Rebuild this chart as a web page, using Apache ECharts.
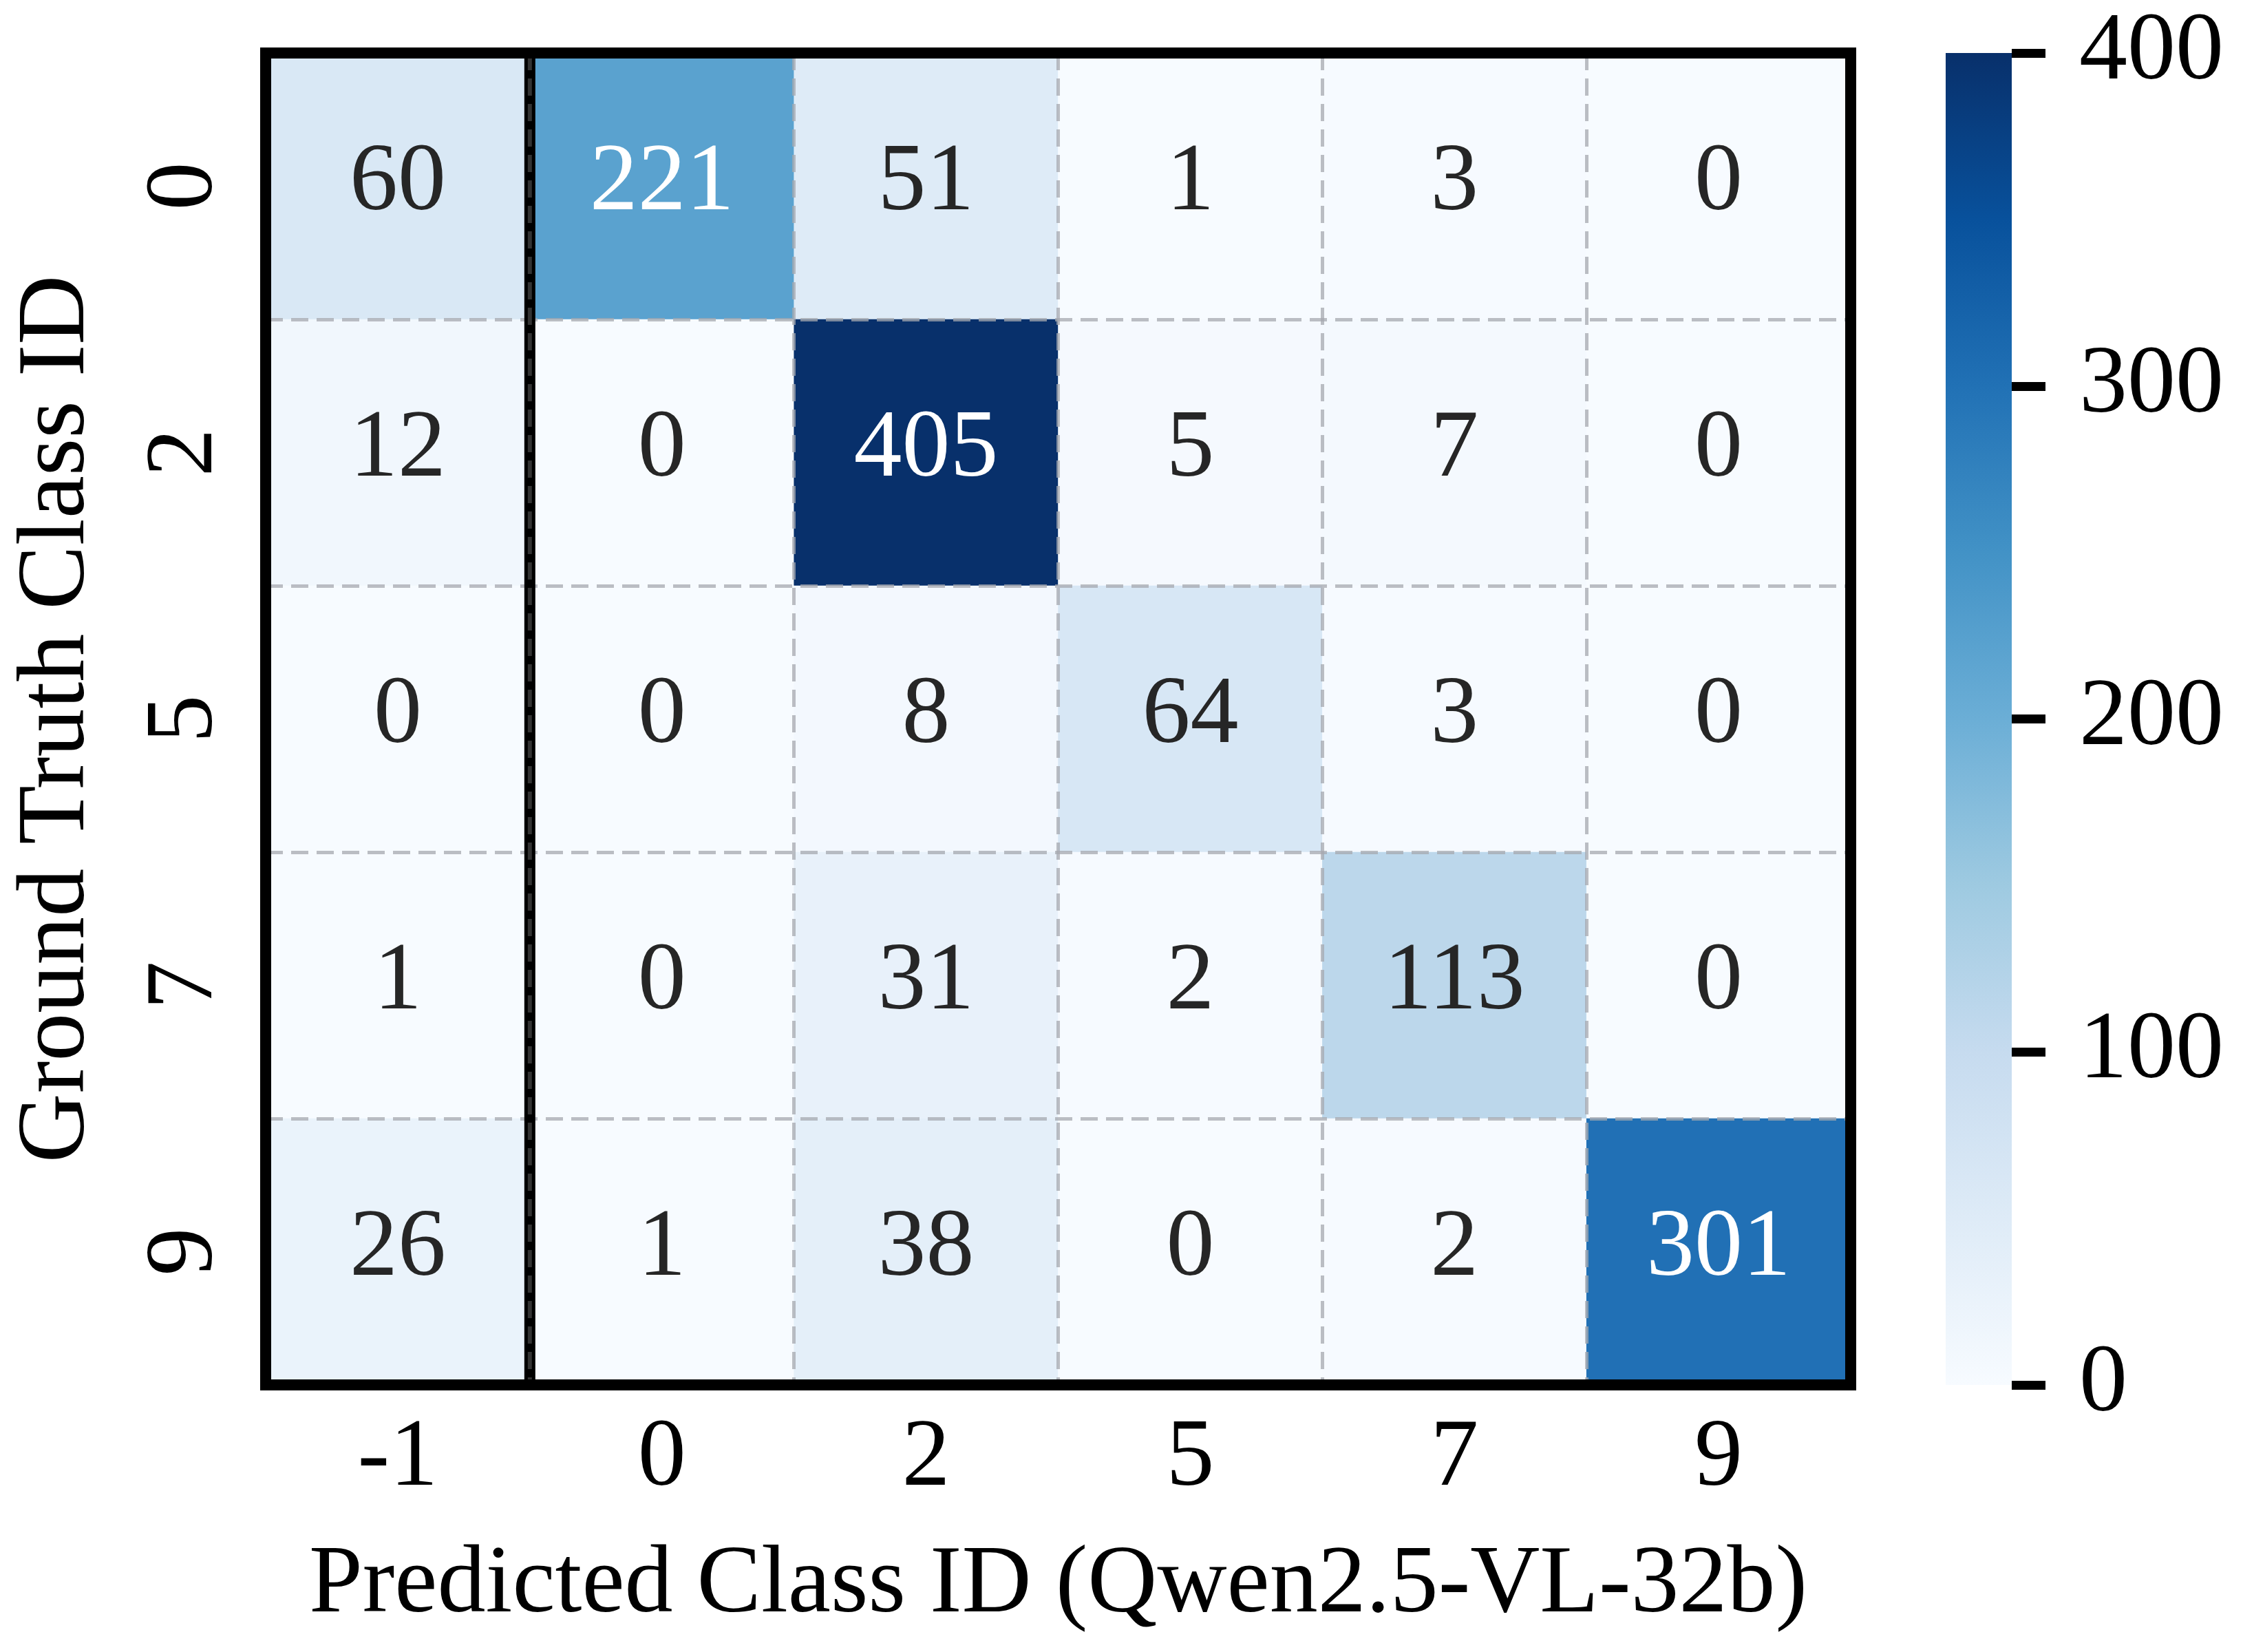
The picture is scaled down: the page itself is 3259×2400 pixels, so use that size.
<!DOCTYPE html>
<html>
<head>
<meta charset="utf-8">
<script src="https://cdn.jsdelivr.net/npm/echarts@6/dist/echarts.min.js"></script>
<style>
html,body{margin:0;padding:0;background:#fff;}
#c{width:3259px;height:2400px;}
</style>
</head>
<body>
<div id="c"></div>
<script>
// ---- data ----
const predictedClasses = ['-1', '0', '2', '5', '7', '9'];
const groundTruthClasses = ['0', '2', '5', '7', '9'];
const row0 = [60, 221, 51, 1, 3, 0];
const row2 = [12, 0, 405, 5, 7, 0];
const row5 = [0, 0, 8, 64, 3, 0];
const row7 = [1, 0, 31, 2, 113, 0];
const row9 = [26, 1, 38, 0, 2, 301];
const colorbarMin = 0;
const colorbarMax = 400;
const colorbarStep = 100;
const separatorAfterColumn = 1; // line between "-1" (no detection) and the rest

const rows = [row0, row2, row5, row7, row9];
const blues = ['#f7fbff', '#deebf7', '#c6dbef', '#9ecae1', '#6baed6', '#4292c6', '#2171b5', '#08519c', '#08306b'];
const FONT = "'Liberation Serif', 'Times New Roman', serif";
const FS = 140;

function hex2rgb(h) { return [parseInt(h.substr(1,2),16), parseInt(h.substr(3,2),16), parseInt(h.substr(5,2),16)]; }
function cmap(t) {
  t = Math.max(0, Math.min(1, t));
  const p = t * (blues.length - 1);
  const i = Math.min(Math.floor(p), blues.length - 2);
  const f = p - i;
  const a = hex2rgb(blues[i]), b = hex2rgb(blues[i + 1]);
  return a.map((v, k) => v + (b[k] - v) * f);
}
function lum(rgb) {
  const c = rgb.map(v => { v /= 255; return v <= 0.03928 ? v / 12.92 : Math.pow((v + 0.055) / 1.055, 2.4); });
  return 0.2126 * c[0] + 0.7152 * c[1] + 0.0722 * c[2];
}

const heatData = [];
rows.forEach((r, yi) => r.forEach((v, xi) => {
  const col = cmap((v - colorbarMin) / (colorbarMax - colorbarMin));
  heatData.push({ value: [xi, yi, v], label: { color: lum(col) > 0.408 ? '#262626' : '#ffffff' } });
}));

const gridStyle = { show: true, lineStyle: { color: 'rgba(165,168,175,0.75)', width: 5, type: [25, 12] } };

const chart = echarts.init(document.getElementById('c'), null, { renderer: 'canvas' });
chart.setOption({
  animation: false,
  backgroundColor: '#ffffff',
  textStyle: { fontFamily: FONT },
  grid: [
    { left: 386, top: 77, width: 2303, height: 1935, show: true, borderColor: '#000', borderWidth: 16, backgroundColor: 'transparent', z: 10 },
    { left: 2827, top: 77, width: 96, height: 1935, show: false }
  ],
  xAxis: [
    {
      type: 'category', gridIndex: 0, data: predictedClasses, position: 'bottom', z: 5,
      axisLine: { show: false }, axisTick: { show: false },
      axisLabel: { fontSize: FS, fontFamily: FONT, color: '#000', margin: 38 },
      splitLine: gridStyle,
      name: 'Predicted Class ID (Qwen2.5-VL-32b)', nameLocation: 'middle', nameGap: 222,
      nameTextStyle: { fontSize: FS, fontFamily: FONT, color: '#000' }
    },
    { type: 'value', gridIndex: 0, min: 0, max: predictedClasses.length, show: false },
    { type: 'category', gridIndex: 1, data: ['cb'], show: false }
  ],
  yAxis: [
    {
      type: 'category', gridIndex: 0, data: groundTruthClasses, inverse: true, z: 5,
      axisLine: { show: false }, axisTick: { show: false },
      axisLabel: { fontSize: FS, fontFamily: FONT, color: '#000', rotate: 90, margin: 46 },
      splitLine: gridStyle,
      name: 'Ground Truth Class ID', nameLocation: 'middle', nameGap: 232, nameRotate: 90,
      nameTextStyle: { fontSize: FS, fontFamily: FONT, color: '#000' }
    },
    { type: 'value', gridIndex: 0, min: 0, max: groundTruthClasses.length, inverse: true, show: false },
    {
      type: 'value', gridIndex: 1, position: 'right', min: colorbarMin, max: colorbarMax, interval: colorbarStep,
      axisLine: { show: false }, splitLine: { show: false },
      axisTick: { show: true, length: 49, lineStyle: { color: '#000', width: 13 } },
      axisLabel: { fontSize: FS, fontFamily: FONT, color: '#000', margin: 98 }
    }
  ],
  visualMap: {
    type: 'continuous', show: false, seriesIndex: 0, min: colorbarMin, max: colorbarMax, dimension: 2,
    inRange: { color: blues }
  },
  series: [
    {
      type: 'heatmap', xAxisIndex: 0, yAxisIndex: 0, data: heatData, z: 2,
      itemStyle: { borderWidth: 0 },
      label: { show: true, fontSize: FS, fontFamily: FONT, offset: [0, -3], formatter: p => String(p.value[2]) },
      emphasis: { disabled: true }
    },
    {
      type: 'line', xAxisIndex: 1, yAxisIndex: 1, z: 8, symbol: 'none', silent: true,
      data: [[separatorAfterColumn, 0], [separatorAfterColumn, groundTruthClasses.length]],
      lineStyle: { color: '#000', width: 16 }
    },
    {
      type: 'line', xAxisIndex: 1, yAxisIndex: 1, z: 9, symbol: 'none', silent: true,
      data: [[separatorAfterColumn, 0], [separatorAfterColumn, groundTruthClasses.length]],
      lineStyle: { color: '#333', width: 6, type: [25, 12] }
    },
    {
      type: 'bar', xAxisIndex: 2, yAxisIndex: 2, barWidth: '100%', silent: true,
      data: [colorbarMax],
      itemStyle: {
        color: {
          type: 'linear', x: 0, y: 1, x2: 0, y2: 0,
          colorStops: blues.map((c, i) => ({ offset: i / (blues.length - 1), color: c }))
        }
      }
    }
  ]
});
</script>
</body>
</html>
